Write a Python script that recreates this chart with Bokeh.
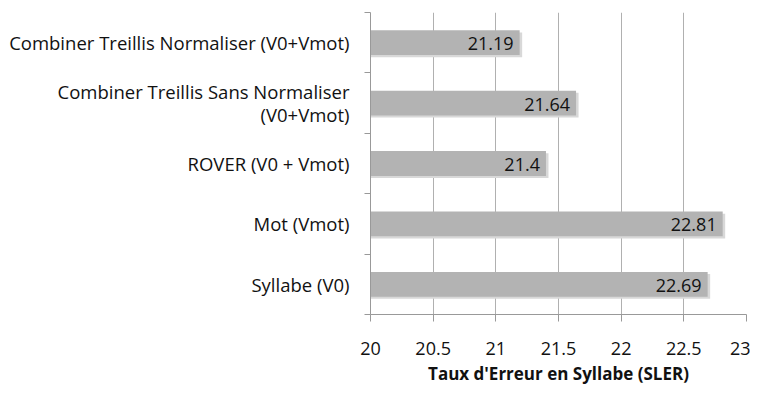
from bokeh.plotting import figure
from bokeh.models import (Range1d, LinearAxis, FixedTicker, ColumnDataSource)
from bokeh.core.properties import value
from bokeh.embed import file_html
from bokeh.resources import INLINE

# Data (bottom to top)
categories = ["Syllabe (V0)", "Mot (Vmot)", "ROVER (V0 + Vmot)",
              "Combiner Treillis Sans Normaliser\n(V0+Vmot)",
              "Combiner Treillis Normaliser (V0+Vmot)"]
values = [22.69, 22.81, 21.4, 21.64, 21.19]
value_labels = ["22.69", "22.81", "21.4", "21.64", "21.19"]
x_ticks = [20, 20.5, 21, 21.5, 22, 22.5, 23]
x_tick_labels = ["20", "20.5", "21", "21.5", "22", "22.5", "23"]
x_title = "Taux d'Erreur en Syllabe (SLER)"

FONT = "Open Sans"
n = len(categories)
centers = [i + 0.5 for i in range(n)]
bounds = list(range(n + 1))

src = ColumnDataSource(dict(y=centers, val=values, lab=value_labels,
                            ys=[c - 0.035 for c in centers],
                            shadow=[v + 0.02 for v in values]))

p = figure(width=750, height=387, output_backend="svg", toolbar_location=None,
           y_range=Range1d(0, n), x_range=Range1d(20, 23),
           y_axis_location=None, x_axis_location=None,
           min_border_left=370, min_border_right=4, min_border_top=12,
           min_border_bottom=71)
p.outline_line_color = None
p.background_fill_color = "white"
p.border_fill_color = "white"

# gridlines
p.ygrid.grid_line_color = None
p.xgrid.grid_line_color = "#b0b0b0"
p.xgrid.grid_line_width = 1
p.xgrid.ticker = FixedTicker(ticks=x_ticks)

# shadow
p.hbar(y="ys", left=20, right="shadow", height=0.41, source=src,
       fill_color="#d8d8d8", line_color=None)
# bars
p.hbar(y="y", left=20, right="val", height=0.41, source=src,
       fill_color="#b3b3b3", line_color=None)
# data labels
p.text(x="val", y="y", text="lab", source=src, x_offset=-6, y_offset=1,
       text_align="right", text_baseline="middle", text_font=value(FONT),
       text_font_size="18px", text_color="#111111")

# x axis
xaxis = LinearAxis(ticker=FixedTicker(ticks=x_ticks))
xaxis.major_label_overrides = {t: l for t, l in zip(x_ticks, x_tick_labels)}
xaxis.axis_line_color = "#999999"
xaxis.major_tick_line_color = "#999999"
xaxis.major_tick_out = 7
xaxis.major_tick_in = 0
xaxis.minor_tick_line_color = None
xaxis.major_label_standoff = 20
xaxis.major_label_text_font = FONT
xaxis.major_label_text_font_size = "18px"
xaxis.major_label_text_color = "#111111"
xaxis.axis_label = x_title
xaxis.axis_label_text_font = FONT
xaxis.axis_label_text_font_style = "bold"
xaxis.axis_label_text_font_size = "17px"
xaxis.axis_label_text_color = "#111111"
xaxis.axis_label_standoff = 4
p.add_layout(xaxis, "below")

# y axis: labels at band centres, tick marks at band boundaries
yaxis = LinearAxis(ticker=FixedTicker(ticks=centers, minor_ticks=bounds))
yaxis.major_label_overrides = {c: lab for c, lab in zip(centers, categories)}
yaxis.axis_line_color = "#999999"
yaxis.major_tick_line_color = None
yaxis.major_tick_out = 0
yaxis.major_tick_in = 0
yaxis.minor_tick_line_color = "#999999"
yaxis.minor_tick_out = 6
yaxis.minor_tick_in = 0
yaxis.major_label_standoff = 15
yaxis.major_label_text_font = FONT
yaxis.major_label_text_font_size = "18.5px"
yaxis.major_label_text_line_height = 0.9
yaxis.major_label_text_color = "#111111"
p.add_layout(yaxis, "left")

open("out.html", "w").write(file_html(p, INLINE))
